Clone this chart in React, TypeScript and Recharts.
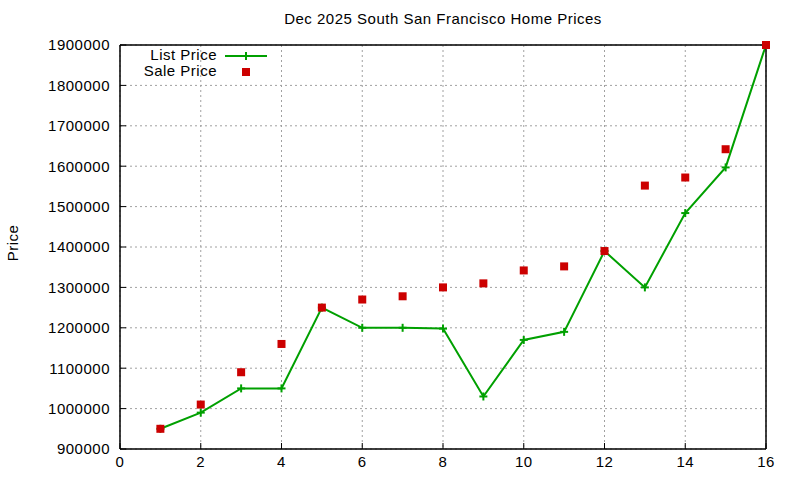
import React from "react";
import {
  ComposedChart,
  Line,
  Scatter,
  XAxis,
  YAxis,
  CartesianGrid,
} from "recharts";

const months = [1, 2, 3, 4, 5, 6, 7, 8, 9, 10, 11, 12, 13, 14, 15, 16];
const listPrice = [
  950000, 990000, 1050000, 1050000, 1250000, 1200000, 1200000, 1198000,
  1030000, 1170000, 1190000, 1390000, 1300000, 1484000, 1597000, 1900000,
];
const salePrice = [
  950000, 1010000, 1090000, 1160000, 1250000, 1270000, 1278000, 1300000,
  1310000, 1342000, 1352000, 1390000, 1552000, 1572000, 1642000, 1900000,
];
const xTicks = [0, 2, 4, 6, 8, 10, 12, 14, 16];
const yTicks = [
  900000, 1000000, 1100000, 1200000, 1300000, 1400000, 1500000, 1600000,
  1700000, 1800000, 1900000,
];
const title = "Dec 2025 South San Francisco Home Prices";
const yLabel = "Price";
const listName = "List Price";
const saleName = "Sale Price";

const data = months.map((m, i) => ({ x: m, list: listPrice[i], sale: salePrice[i] }));

const GREEN = "#00a000";
const RED = "#cc0000";
const FONT = "'Liberation Sans', Arial, sans-serif";
const FS = 15;
const LS = 0.5;

const PlusDot = (props: any) => {
  const { cx, cy } = props;
  if (cx == null || cy == null) return null;
  return (
    <g>
      <line x1={cx - 4} x2={cx + 4} y1={cy} y2={cy} stroke={GREEN} strokeWidth={2} />
      <line x1={cx} x2={cx} y1={cy - 4} y2={cy + 4} stroke={GREEN} strokeWidth={2} />
    </g>
  );
};

const Square = (props: any) => {
  const { cx, cy } = props;
  if (cx == null || cy == null) return null;
  return <rect x={cx - 4} y={cy - 4} width={8} height={8} fill={RED} />;
};

const tickStyle = { fontSize: FS, fontFamily: FONT, fill: "#000", letterSpacing: LS };

export default function App() {
  return (
    <div style={{ position: "absolute", left: 0, top: 0, width: 800, height: 480, background: "#fff" }}>
      <ComposedChart
        width={800}
        height={480}
        data={data}
        margin={{ top: 44, right: 33, bottom: 0, left: 0 }}
      >
        <CartesianGrid
          xAxisId="b"
          yAxisId="l"
          stroke="#a0a0a0"
          strokeDasharray="2 3"
          strokeWidth={1}
        />
        <XAxis
          xAxisId="b"
          dataKey="x"
          type="number"
          domain={[0, 16]}
          ticks={xTicks}
          height={31}
          tickSize={-6}
          tickMargin={13}
          stroke="#000"
          axisLine={{ stroke: "#000", strokeWidth: 1.5 }}
          tickLine={{ stroke: "#000" }}
          tick={tickStyle}
          interval={0}
        />
        <XAxis
          xAxisId="t"
          orientation="top"
          dataKey="x"
          type="number"
          domain={[0, 16]}
          ticks={xTicks}
          height={1}
          tickSize={-6}
          axisLine={{ stroke: "#000", strokeWidth: 1.5 }}
          tickLine={{ stroke: "#000" }}
          tick={false}
          interval={0}
        />
        <YAxis
          yAxisId="l"
          type="number"
          domain={[900000, 1900000]}
          ticks={yTicks}
          width={120}
          tickSize={-6}
          tickMargin={16}
          axisLine={{ stroke: "#000", strokeWidth: 1.5 }}
          tickLine={{ stroke: "#000" }}
          tick={tickStyle}
          interval={0}
          label={() => (
            <text
              x={18}
              y={243}
              transform="rotate(-90 18 243)"
              textAnchor="middle"
              style={{ fontSize: FS, fontFamily: FONT, letterSpacing: LS }}
              fill="#000"
            >
              {yLabel}
            </text>
          )}
        />
        <YAxis
          yAxisId="r"
          orientation="right"
          type="number"
          domain={[900000, 1900000]}
          ticks={yTicks}
          width={1}
          tickSize={-6}
          axisLine={{ stroke: "#000", strokeWidth: 1.5 }}
          tickLine={{ stroke: "#000" }}
          tick={false}
          interval={0}
        />
        <Line
          xAxisId="b"
          yAxisId="l"
          type="linear"
          dataKey="list"
          stroke={GREEN}
          strokeWidth={2}
          dot={<PlusDot />}
          activeDot={false}
          isAnimationActive={false}
        />
        <Scatter
          xAxisId="b"
          yAxisId="l"
          dataKey="sale"
          fill={RED}
          shape={<Square />}
          isAnimationActive={false}
        />
      </ComposedChart>
      <div
        style={{
          position: "absolute",
          left: 0,
          top: 10,
          width: 886,
          textAlign: "center",
          fontFamily: FONT,
          fontSize: FS,
          letterSpacing: LS,
          color: "#000",
          lineHeight: "18px",
        }}
      >
        {title}
      </div>
      <svg
        width={800}
        height={480}
        style={{ position: "absolute", left: 0, top: 0, pointerEvents: "none" }}
      >
        <text
          x={217}
          y={60}
          textAnchor="end"
          style={{ fontSize: FS, fontFamily: FONT, letterSpacing: LS }}
          fill="#000"
        >
          {listName}
        </text>
        <line x1={225} x2={267} y1={56} y2={56} stroke={GREEN} strokeWidth={2} />
        <line x1={242} x2={250} y1={56} y2={56} stroke={GREEN} strokeWidth={2} />
        <line x1={246} x2={246} y1={52} y2={60} stroke={GREEN} strokeWidth={2} />
        <text
          x={217}
          y={76}
          textAnchor="end"
          style={{ fontSize: FS, fontFamily: FONT, letterSpacing: LS }}
          fill="#000"
        >
          {saleName}
        </text>
        <rect x={242} y={68} width={8} height={8} fill={RED} />
      </svg>
    </div>
  );
}
